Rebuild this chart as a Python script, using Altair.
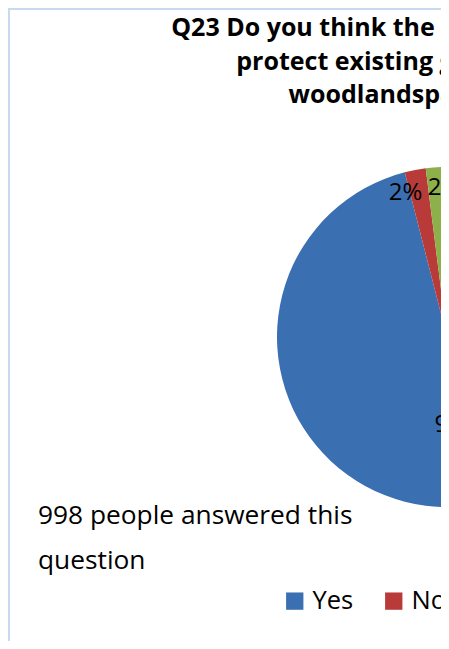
import altair as alt
import pandas as pd

# ---- data ----
categories = ["Yes", "No", "Don't know"]
percent = [96, 2, 2]
labels = ["96%", "2%", "2%"]
order = [1, 2, 3]
colors = ["#3A70B2", "#B83B39", "#8DB04B"]

title_lines = [
    "Q23 Do you think the Neighbourhood Plan should",
    "protect existing green spaces and open",
    "woodlandspaces in the parish?",
]
note_lines = ["998 people answered this", "question"]

df = pd.DataFrame({"category": categories, "percent": percent,
                   "label": labels, "order": order})

# ---- layout ----
W = 433
H = 633
CX, CY, R = 439, 329, 170
FONT = "Open Sans"

theta = alt.Theta("percent:Q", stack=True)
ordr = alt.Order("order:Q")
cx, cy = alt.value(CX), alt.value(CY)

pie = alt.Chart(df).mark_arc(radius=R, strokeWidth=0).encode(
    theta=theta,
    order=ordr,
    x=cx, y=cy,
    color=alt.Color(
        "category:N",
        scale=alt.Scale(domain=categories, range=colors),
        sort=categories,
        legend=alt.Legend(
            title=None, orient="none", direction="horizontal",
            legendX=274, legendY=580,
            symbolType="square", symbolSize=300, symbolStrokeWidth=0,
            labelFont=FONT, labelFontSize=25.5, labelColor="black",
            labelOffset=5, columnPadding=27, labelLimit=400, padding=0,
        ),
    ),
)

def lab(cat, radius, dx=0):
    return alt.Chart(df).mark_text(
        radius=radius, fontSize=24, font=FONT, color="black", dx=dx
    ).encode(
        theta=theta, order=ordr, x=cx, y=cy,
        text=alt.condition(alt.datum.category == cat, "label:N", alt.value("")),
    )

lab_yes = lab("Yes", 89)
lab_no = lab("No", 147, -14)
lab_dk = lab("Don't know", 149, 7)

title = alt.Chart(pd.DataFrame({"t": [title_lines]})).mark_text(
    align="center", baseline="alphabetic", font=FONT, fontSize=25,
    fontWeight="bold", lineHeight=33.5, color="black",
).encode(x=alt.value(472), y=alt.value(28), text="t")

note = alt.Chart(pd.DataFrame({"t": [note_lines]})).mark_text(
    align="left", baseline="alphabetic", font=FONT, fontSize=26.3,
    lineHeight=45, color="black",
).encode(x=alt.value(30), y=alt.value(516), text="t")

border_color = "#C9DAF0"
left_border = alt.Chart(df).mark_rule(color=border_color, strokeWidth=2).encode(
    x=alt.value(1), y=alt.value(0), y2=alt.value(H)
)
top_border = alt.Chart(df).mark_rule(color=border_color, strokeWidth=2).encode(
    x=alt.value(0), x2=alt.value(W), y=alt.value(1)
)

chart = alt.layer(
    pie, lab_yes, lab_no, lab_dk, title, note, left_border, top_border
).properties(
    width=W, height=H,
    autosize=alt.AutoSizeParams(type="none"),
    padding=0,
    background="white",
).configure_view(stroke=None)

chart.save("out.html", embed_options={"renderer": "svg", "actions": False})
